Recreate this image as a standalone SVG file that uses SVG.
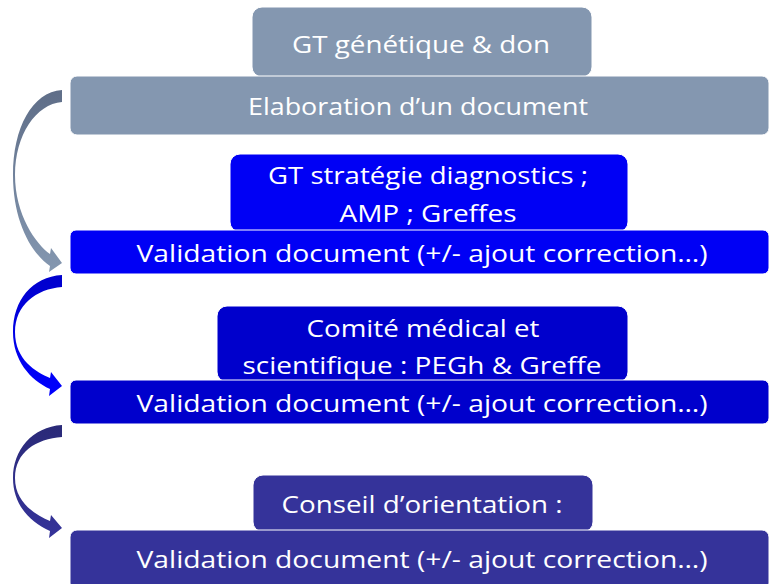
<svg xmlns="http://www.w3.org/2000/svg" width="770" height="584" viewBox="0 0 770 584">
<defs>
<linearGradient id="g1" x1="0" y1="0" x2="0" y2="1"><stop offset="0" stop-color="#5f6e88"/><stop offset="1" stop-color="#8497b0"/></linearGradient>
<linearGradient id="g2" x1="0" y1="0" x2="0" y2="1"><stop offset="0" stop-color="#0000cc"/><stop offset="1" stop-color="#0000ff"/></linearGradient>
<linearGradient id="g3" x1="0" y1="0" x2="0" y2="1"><stop offset="0" stop-color="#2a2a78"/><stop offset="1" stop-color="#35339a"/></linearGradient>
</defs>
<style>
.box{stroke:#ffffff;stroke-width:1}
.t{font-family:"Open Sans","Noto Sans","Liberation Sans",sans-serif;font-size:24px;fill:#ffffff;text-anchor:middle}
.grey{fill:#8497b0}
.blue{fill:#0000f5}
.dblue{fill:#0000cc}
.indigo{fill:#35339a}
</style>
<g id="connectors">
<path fill="url(#g1)" d="M62,90 C32,92 13,128 13,175 C13,220 30,252 50,266 L49,272 L62,263 L51,248 L50,254 C36,244 15,215 15,175 C15,135 36,104 62,102 Z"/>
<path fill="url(#g2)" d="M62,275 C32,277 13,300 13,332 C13,360 30,380 50,389 L49,396 L62,386 L51,372 L50,378 C36,372 15,360 15,332 C15,305 36,289 62,287 Z"/>
<path fill="url(#g3)" d="M62,425 C32,427 13,450 13,478 C13,505 30,522 50,531 L49,538 L62,528 L51,515 L50,521 C36,515 15,503 15,478 C15,452 36,439 62,437 Z"/>
</g>
<g id="stage1">
<rect class="box grey" x="252" y="7" width="340" height="70" rx="10"/>
<text class="t" x="421" y="53" textLength="258" lengthAdjust="spacingAndGlyphs">GT génétique &amp; don</text>
<rect class="box grey" x="70" y="76" width="699" height="59" rx="7"/>
<text class="t" x="418" y="115" textLength="340" lengthAdjust="spacingAndGlyphs">Elaboration d’un document</text>
</g>
<g id="stage2">
<rect class="box blue" x="230" y="154" width="398" height="78" rx="10"/>
<text class="t" x="428" y="184" textLength="320" lengthAdjust="spacingAndGlyphs">GT stratégie diagnostics ;</text>
<text class="t" x="428" y="222" textLength="177" lengthAdjust="spacingAndGlyphs">AMP ; Greffes</text>
<rect class="box blue" x="70" y="230" width="699" height="44" rx="6"/>
<text class="t" x="422" y="262" textLength="571" lengthAdjust="spacingAndGlyphs">Validation document (+/- ajout correction…)</text>
</g>
<g id="stage3">
<rect class="box dblue" x="217" y="306" width="411" height="76" rx="10"/>
<text class="t" x="423" y="337" textLength="233" lengthAdjust="spacingAndGlyphs">Comité médical et</text>
<text class="t" x="422" y="374" textLength="359" lengthAdjust="spacingAndGlyphs">scientifique : PEGh &amp; Greffe</text>
<rect class="box dblue" x="70" y="380" width="699" height="44" rx="6"/>
<text class="t" x="422" y="412" textLength="571" lengthAdjust="spacingAndGlyphs">Validation document (+/- ajout correction…)</text>
</g>
<g id="stage4">
<rect class="box indigo" x="253" y="475" width="340" height="57" rx="10"/>
<text class="t" x="422" y="513" textLength="281" lengthAdjust="spacingAndGlyphs">Conseil d’orientation :</text>
<rect class="box indigo" x="70" y="530" width="699" height="60" rx="7"/>
<text class="t" x="422" y="568" textLength="571" lengthAdjust="spacingAndGlyphs">Validation document (+/- ajout correction…)</text>
</g>
</svg>
